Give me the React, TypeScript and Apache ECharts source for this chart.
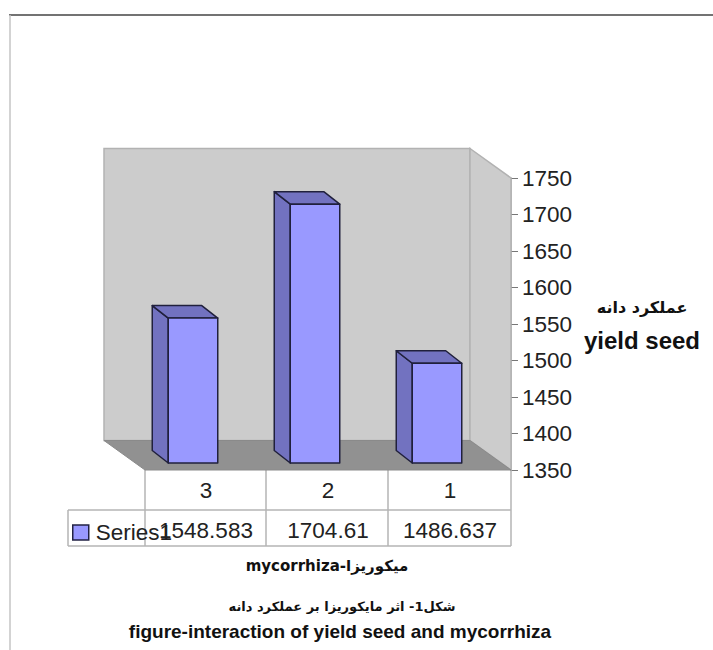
import React, { useEffect, useRef } from "react";
import * as echarts from "echarts";

const categories = ["3", "2", "1"];
const seriesName = "Series1";
const seriesValues = [1548.583, 1704.61, 1486.637];
const valueLabels = ["1548.583", "1704.61", "1486.637"];
const axisMin = 1350;
const axisMax = 1750;
const axisStep = 50;
const yTitleFa = "عملکرد دانه";
const yTitleEn = "yield seed";
const xTitle = "mycorrhiza-میکوریزا";
const captionFa = "شکل1- اثر مایکوریزا بر عملکرد دانه";
const captionEn = "figure-interaction of yield seed and mycorrhiza";

const FONT = '"Liberation Sans", Arial, "DejaVu Sans", sans-serif';
const FA_FONT = '"DejaVu Sans", "Liberation Sans", sans-serif';
const DEPTH_X = 41;
const DEPTH_Y = 29.5;
const BAR_W = 49.5;
const BAR_DX = 16;
const BAR_DY = 12.5;
const BAR_OFF_X = -13;
const BAR_OFF_Y = -7;
const GRID_LINE = "#b4b4b4";
const TEXT_SIZE = 22.5;

const App = () => {
  const ref = useRef<HTMLDivElement>(null);
  useEffect(() => {
    const chart = echarts.init(ref.current!, undefined, { renderer: "svg" });
    const tableLine = (x1: number, y1: number, x2: number, y2: number) => ({
      type: "line",
      shape: { x1, y1, x2, y2 },
      style: { stroke: GRID_LINE, lineWidth: 1.5 },
      silent: true,
    });
    const title = (text: string, x: number, y: number, size: number, fam = FONT) => ({
      text,
      left: x,
      top: y,
      textAlign: "center",
      textVerticalAlign: "middle",
      padding: 0,
      textStyle: { fontSize: size, fontWeight: "bold", color: "#111", fontFamily: fam },
    });
    chart.setOption({
      animation: false,
      backgroundColor: "#ffffff",
      title: [
        title(yTitleFa, 642, 307, 16, FA_FONT),
        title(yTitleEn, 642, 340, 24),
        title(xTitle, 327, 566, 15, FA_FONT),
        title(captionFa, 342, 606, 13, FA_FONT),
        title(captionEn, 340, 631, 19),
      ],
      grid: { left: 145, right: 202, top: 178, bottom: 180, containLabel: false },
      legend: {
        left: 72,
        top: 521,
        padding: 0,
        itemWidth: 16,
        itemHeight: 15,
        selectedMode: false,
        textStyle: { fontSize: TEXT_SIZE, color: "#222", fontFamily: FONT, padding: [0, 0, 0, 2] },
        data: [
          {
            name: seriesName,
            icon: "rect",
            itemStyle: { color: "#9999ff", borderColor: "#222244", borderWidth: 1.5 },
          },
        ],
      },
      xAxis: {
        type: "category",
        data: categories,
        axisLine: { show: false },
        axisTick: { show: false },
        axisLabel: { fontSize: TEXT_SIZE, color: "#222", fontFamily: FONT, margin: 9 },
      },
      yAxis: {
        type: "value",
        position: "right",
        min: axisMin,
        max: axisMax,
        interval: axisStep,
        splitLine: { show: false },
        axisLine: { show: true, lineStyle: { color: "#a8a8a8", width: 1.5 } },
        axisTick: { show: true, length: 7, lineStyle: { color: "#777", width: 1 } },
        axisLabel: {
          fontSize: TEXT_SIZE,
          color: "#222",
          fontFamily: FONT,
          margin: 11,
          formatter: (v: number) => String(v),
        },
      },
      series: [
        {
          type: "custom",
          name: "walls",
          silent: true,
          z: 1,
          clip: false,
          data: [[0, axisMin]],
          renderItem: (params: any) => {
            const { x, y, width: w, height: h } = params.coordSys;
            const b = y + h;
            const r = x + w;
            const edge = { stroke: "#b2b2b2", lineWidth: 1.5 };
            return {
              type: "group",
              children: [
                {
                  type: "polygon",
                  shape: { points: [[x - DEPTH_X, y - DEPTH_Y], [r - DEPTH_X, y - DEPTH_Y], [r - DEPTH_X, b - DEPTH_Y], [x - DEPTH_X, b - DEPTH_Y]] },
                  style: { fill: "#cccccc", ...edge },
                },
                {
                  type: "polygon",
                  shape: { points: [[r - DEPTH_X, y - DEPTH_Y], [r, y], [r, b], [r - DEPTH_X, b - DEPTH_Y]] },
                  style: { fill: "#cccccc", ...edge },
                },
                {
                  type: "polygon",
                  shape: { points: [[x, b], [r, b], [r - DEPTH_X, b - DEPTH_Y], [x - DEPTH_X, b - DEPTH_Y]] },
                  style: { fill: "#919191", stroke: "#8a8a8a", lineWidth: 1 },
                },
              ],
            };
          },
        },
        {
          type: "custom",
          name: seriesName,
          z: 3,
          clip: false,
          itemStyle: { color: "#9999ff" },
          data: seriesValues.map((v, i) => [i, v]),
          encode: { x: 0, y: 1 },
          renderItem: (params: any, api: any) => {
            const top = api.coord([api.value(0), api.value(1)]);
            const base = api.coord([api.value(0), axisMin]);
            const l = top[0] + BAR_OFF_X - BAR_W / 2;
            const r = l + BAR_W;
            const t = top[1] + BAR_OFF_Y;
            const b = base[1] + BAR_OFF_Y;
            const line = { stroke: "#20203c", lineWidth: 1.5, lineJoin: "round" };
            return {
              type: "group",
              children: [
                {
                  type: "polygon",
                  shape: { points: [[l, t], [l - BAR_DX, t - BAR_DY], [l - BAR_DX, b - BAR_DY], [l, b]] },
                  style: { fill: "#7272c0", ...line },
                },
                {
                  type: "polygon",
                  shape: { points: [[l, t], [r, t], [r - BAR_DX, t - BAR_DY], [l - BAR_DX, t - BAR_DY]] },
                  style: { fill: "#7272c0", ...line },
                },
                {
                  type: "rect",
                  shape: { x: l, y: t, width: BAR_W, height: b - t },
                  style: { fill: "#9999ff", ...line },
                },
              ],
            };
          },
        },
        {
          type: "custom",
          name: "table",
          silent: true,
          z: 4,
          clip: false,
          data: valueLabels.map((_, i) => [i, axisMin]),
          renderItem: (params: any, api: any) => {
            const pt = api.coord([api.value(0), axisMin]);
            return {
              type: "text",
              style: {
                x: pt[0],
                y: pt[1] + 60,
                text: valueLabels[params.dataIndex],
                align: "center",
                verticalAlign: "middle",
                fontSize: TEXT_SIZE,
                fontFamily: FONT,
                fill: "#222",
              },
            };
          },
        },
      ],
      graphic: [
        tableLine(145, 470, 145, 546),
        tableLine(266, 470, 266, 546),
        tableLine(388, 470, 388, 546),
        tableLine(511, 470, 511, 546),
        tableLine(68, 510, 511, 510),
        tableLine(68, 546, 511, 546),
        tableLine(68, 510, 68, 546),
        {
          type: "line",
          shape: { x1: 9, y1: 15, x2: 713, y2: 15 },
          style: { stroke: "#444", lineWidth: 1.5 },
          silent: true,
        },
        {
          type: "line",
          shape: { x1: 10, y1: 15, x2: 10, y2: 650 },
          style: { stroke: "#c4c4c4", lineWidth: 1.5 },
          silent: true,
        },
      ],
    });
    return () => chart.dispose();
  }, []);
  return <div ref={ref} style={{ position: "fixed", left: 0, top: 0, width: 713, height: 650 }} />;
};

export default App;
